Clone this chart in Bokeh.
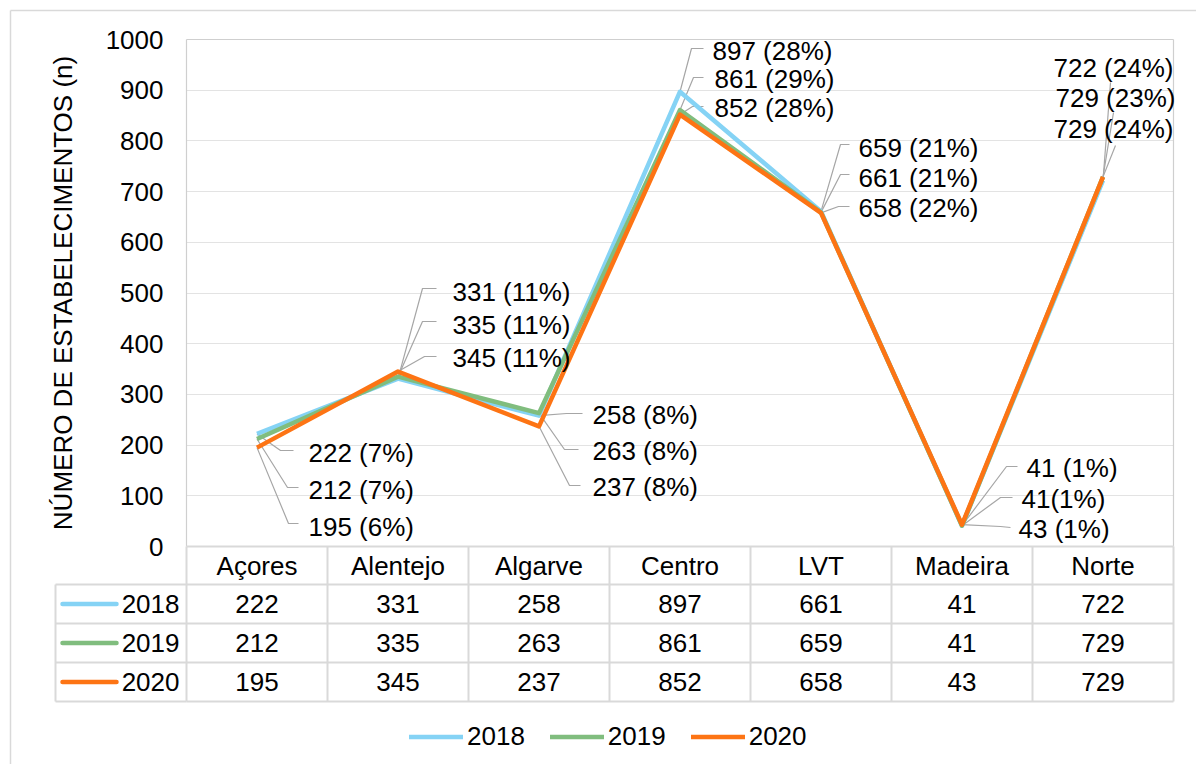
import math
from bokeh.plotting import figure
from bokeh.models import Range1d, FixedTicker, Legend, LegendItem
from bokeh.embed import file_html
from bokeh.resources import INLINE
from bokeh.core.properties import value

# ---------------- data ----------------
categories = ["Açores", "Alentejo", "Algarve", "Centro", "LVT", "Madeira", "Norte"]
years = ["2018", "2019", "2020"]
values_2018 = [222, 331, 258, 897, 661, 41, 722]
values_2019 = [212, 335, 263, 861, 659, 41, 729]
values_2020 = [195, 345, 237, 852, 658, 43, 729]
labels_2018 = ["222 (7%)", "331 (11%)", "258 (8%)", "897 (28%)", "659 (21%)", "41 (1%)", "722 (24%)"]
labels_2019 = ["212 (7%)", "335 (11%)", "263 (8%)", "861 (29%)", "661 (21%)", "41(1%)", "729 (23%)"]
labels_2020 = ["195 (6%)", "345 (11%)", "237 (8%)", "852 (28%)", "658 (22%)", "43 (1%)", "729 (24%)"]
y_ticks = [0, 100, 200, 300, 400, 500, 600, 700, 800, 900, 1000]
y_title = "NÚMERO DE ESTABELECIMENTOS (n)"

series_values = [values_2018, values_2019, values_2020]
series_labels = [labels_2018, labels_2019, labels_2020]

# ---------------- style / layout ----------------
colors = ["#85d3f5", "#80bd7e", "#fd7414"]
FONT = "Liberation Sans"
FS = "26px"
TXT = "#000000"
LEADER = "#a6a6a6"
FRAME_LINE = "#cfcfcf"
TABLE_LINE = "#d9d9d9"

W, H = 1196, 764
FX0, FX1 = 186, 1173          # plot area left/right (px)
FY_TOP, FY_ZERO = 39, 546     # y of value 1000 / value 0 (px)
ROW_PX = [546, 584, 623, 662, 701]   # table row boundaries (px)
TBL_LEFT = 55
N = len(categories)
PXC = (FX1 - FX0) / N
PXV = (FY_ZERO - FY_TOP) / 1000.0


def xd(px):
    return (px - FX0) / PXC


def yd(py):
    return (FY_ZERO - py) / PXV


# label placements (px): [left, centre-y] and leader elbow / end points
label_pos = [
    [(308, 452), (452, 291), (592, 414), (712, 50), (858, 147), (1026, 467), (1053, 67)],
    [(308, 489), (452, 324), (592, 450), (714, 78), (858, 177), (1021, 498), (1055, 97)],
    [(308, 526), (452, 357), (592, 486), (714, 107), (858, 207), (1018, 528), (1053, 128)],
]
leader_pts = [
    [[(280, 450), (293, 450)], [(422, 288), (436, 288)], [(566, 413), (582, 413)],
     [(691, 48), (703, 48)], [(840, 144), (849, 144)], [(1006, 466), (1017, 466)], [(1110, 82)]],
    [[(287, 487), (298, 487)], [(422, 321), (436, 321)], [(564, 449), (578, 449)],
     [(693, 77), (703, 77)], [(840, 174), (849, 174)], [(1000, 497), (1012, 497)], [(1113, 112)]],
    [[(288, 523), (298, 523)], [(424, 356), (436, 356)], [(569, 485), (580, 485)],
     [(692, 106), (703, 106)], [(838, 206), (849, 206)], [(1000, 526), (1010, 527)], [(1115, 145)]],
]

centers = [i + 0.5 for i in range(N)]
TEXT_KW = dict(text_font=value(FONT), text_font_size=value(FS), text_color=TXT)

# the frame spans the plot area columns down to the bottom of the page
p = figure(width=W, height=H, x_range=Range1d(0, N), y_range=Range1d(yd(H), 1000),
           output_backend="svg", toolbar_location=None, x_axis_location=None,
           min_border_left=FX0, min_border_right=W - FX1,
           min_border_top=FY_TOP, min_border_bottom=0)
p.outline_line_color = None
p.background_fill_color = "white"
p.border_fill_color = "white"
p.xgrid.visible = False
ticker = FixedTicker(ticks=y_ticks)
p.yaxis.ticker = ticker
p.ygrid.ticker = ticker
p.ygrid.grid_line_color = "#e3e3e3"
p.ygrid.grid_line_width = 1
p.yaxis.axis_line_color = None
p.yaxis.major_tick_line_color = None
p.yaxis.minor_tick_line_color = None
p.yaxis.major_tick_in = 0
p.yaxis.major_tick_out = 0
p.yaxis.major_label_standoff = 23
p.yaxis.major_label_text_font = FONT
p.yaxis.major_label_text_font_size = FS
p.yaxis.major_label_text_color = TXT

# y-axis title, centred on the 0..1000 span
t = p.text([xd(62)], [500], text=[y_title], angle=math.pi / 2,
           text_align="center", text_baseline="middle", **TEXT_KW)
t.level = "overlay"

# plot-area border
pa = p.segment([0, 0, N], [1000, 1000, 1000], [N, 0, N], [1000, 0, 0],
               line_color=FRAME_LINE, line_width=1.2)
pa.level = "overlay"

# ---- data table (inside plot area columns) ----
tl = xd(TBL_LEFT)
ry = [yd(v) for v in ROW_PX]
x0s, y0s, x1s, y1s = [], [], [], []
for r in range(len(ROW_PX)):
    x0s.append(0); y0s.append(ry[r]); x1s.append(N); y1s.append(ry[r])
for c in range(N + 1):
    x0s.append(c); y0s.append(ry[0]); x1s.append(c); y1s.append(ry[-1])
tb = p.segment(x0s, y0s, x1s, y1s, line_color=TABLE_LINE, line_width=2)
tb.level = "overlay"

# ---- data table (row-label column, left of plot area) ----
ox0, oy0, ox1, oy1 = [], [], [], []
for r in range(1, len(ROW_PX)):
    ox0.append(tl); oy0.append(ry[r]); ox1.append(0); oy1.append(ry[r])
ox0.append(tl); oy0.append(ry[1]); ox1.append(tl); oy1.append(ry[-1])
seg_out = p.segment(ox0, oy0, ox1, oy1, line_color=TABLE_LINE, line_width=2)
seg_out.level = "overlay"

# outer chart border
border = p.segment([xd(10), xd(10)], [yd(10), yd(10)], [xd(10), xd(W + 5)], [yd(H + 5), yd(10)],
                   line_color=TABLE_LINE, line_width=1.5)
border.level = "overlay"

row_mid = [yd((ROW_PX[r] + ROW_PX[r + 1]) / 2) for r in range(len(ROW_PX) - 1)]
p.text(centers, [row_mid[0]] * N, text=categories,
       text_align="center", text_baseline="middle", **TEXT_KW)
tx, ty, tt = [], [], []
for k in range(3):
    for i in range(N):
        tx.append(centers[i]); ty.append(row_mid[k + 1]); tt.append(str(series_values[k][i]))
p.text(tx, ty, text=tt, text_align="center", text_baseline="middle", **TEXT_KW)

yr = p.text([xd(179)] * 3, row_mid[1:], text=years,
            text_align="right", text_baseline="middle", **TEXT_KW)
yr.level = "overlay"

swatches = []
for k in range(3):
    r = p.line([xd(62), xd(116)], [row_mid[k + 1]] * 2, line_color=colors[k], line_width=4.5,
               line_cap="round")
    r.level = "overlay"
    swatches.append(r)

# ---- chart lines, leaders and labels ----
lx, ly = [], []
for k in range(3):
    for i in range(N):
        lx.append([centers[i]] + [xd(a) for a, b in leader_pts[k][i]])
        ly.append([series_values[k][i]] + [yd(b) for a, b in leader_pts[k][i]])
p.multi_line(lx, ly, line_color=LEADER, line_width=1.2)

for k in range(3):
    p.line(centers, series_values[k], line_color=colors[k], line_width=4.5, line_join="round")

lb = p.text([xd(label_pos[k][i][0]) for k in range(3) for i in range(N)],
            [yd(label_pos[k][i][1]) for k in range(3) for i in range(N)],
            text=[series_labels[k][i] for k in range(3) for i in range(N)],
            text_align="left", text_baseline="middle", **TEXT_KW)
lb.level = "overlay"

# ---- legend below the table ----
LEG_Y = 737
legend = Legend(items=[LegendItem(label=years[k], renderers=[swatches[k]]) for k in range(3)],
                location=(409 - FX0, H - (LEG_Y + 14.5)), orientation="horizontal",
                glyph_width=54, glyph_height=29, label_height=29, label_standoff=4, spacing=25,
                padding=0, margin=0, border_line_color=None, background_fill_alpha=0,
                label_text_font=FONT, label_text_font_size=FS, label_text_color=TXT)
p.add_layout(legend)

open("out.html", "w").write(file_html(p, INLINE))
